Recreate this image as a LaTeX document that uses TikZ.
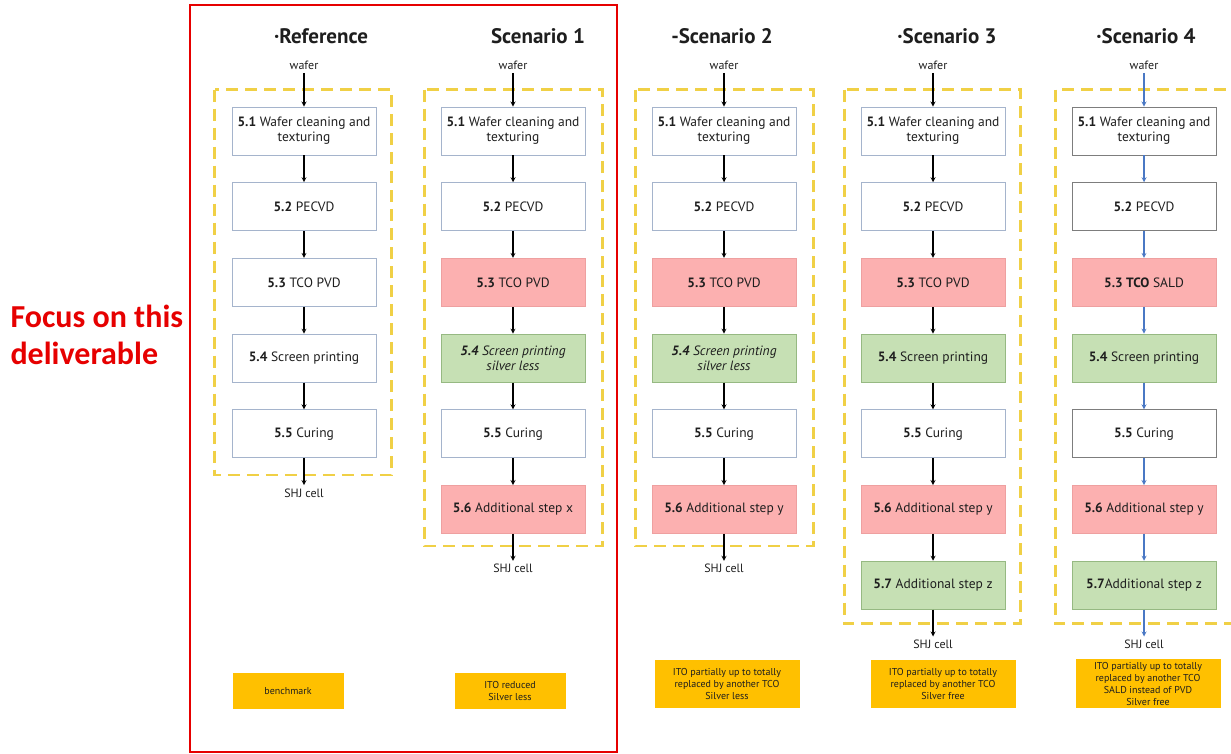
\documentclass[tikz,border=0pt]{standalone}
\usepackage{fontspec}
\setmainfont{PT Sans}
\newfontfamily\calibri{Carlito}
\usetikzlibrary{arrows, calc, positioning}

\definecolor{boxline}{RGB}{165,180,204}
\definecolor{darkline}{RGB}{125,125,125}
\definecolor{pinkfill}{RGB}{252,176,176}
\definecolor{pinkline}{RGB}{238,160,160}
\definecolor{greenfill}{RGB}{198,224,180}
\definecolor{greenline}{RGB}{150,185,130}
\definecolor{goldfill}{RGB}{255,192,0}
\definecolor{frameyellow}{RGB}{240,208,70}
\definecolor{arrowblue}{RGB}{74,120,196}
\definecolor{focusred}{RGB}{230,0,0}
\definecolor{ink}{RGB}{30,30,30}

\tikzstyle{plain} = [
    rectangle,
    minimum width=144pt,
    minimum height=48pt,
    align=center,
    draw=boxline,
    fill=white,
    line width=0.9pt,
    text=ink,
    font=\fontsize{13.5}{15}\selectfont
]
\tikzstyle{changed} = [plain, draw=pinkline, fill=pinkfill]
\tikzstyle{added} = [plain, draw=greenline, fill=greenfill]
\tikzstyle{dark} = [plain, draw=darkline]
\tikzstyle{io} = [text=ink, font=\fontsize{12}{13}\selectfont]
\tikzstyle{heading} = [text=ink, font=\fontsize{21}{24}\selectfont\bfseries]
\tikzstyle{outcome} = [
    rectangle,
    minimum width=145pt,
    minimum height=48pt,
    align=center,
    fill=goldfill,
    text=ink,
    font=\fontsize{10}{11.7}\selectfont
]
\tikzstyle{frame} = [draw=frameyellow, line width=2.5pt, dash pattern=on 12pt off 7pt]
\tikzstyle{arrow} = [line width=1.2pt,->,>=stealth]
\tikzstyle{bluearrow} = [arrow, draw=arrowblue]

\begin{document}
\begin{tikzpicture}[x=1pt, y=1pt, node distance=75.7pt]
    \useasboundingbox (0,0) rectangle (1231,754);

    \node (focus) [anchor=west, align=left, text=focusred,
        font=\calibri\fontsize{32}{37}\selectfont\bfseries] at (7,419)
        {Focus on this\\deliverable};
    \draw[focusred, line width=1.5pt] (190,2) rectangle (617,749);

    % Reference
    \node (title0) [heading] at (321,718) {·Reference};
    \node (wafer0) [io] at (304,689) {wafer};
    \node (clean0) [plain] at (304,623) {\textbf{5.1} Wafer cleaning and\\texturing};
    \node (pecvd0) [plain, below of=clean0] {\textbf{5.2} PECVD};
    \node (tco0) [plain, below of=pecvd0] {\textbf{5.3} TCO PVD};
    \node (print0) [plain, below of=tco0] {\textbf{5.4} Screen printing};
    \node (curing0) [plain, below of=print0] {\textbf{5.5} Curing};
    \node (cell0) [io, below of=curing0, yshift=16.5pt] {SHJ cell};
    \node (goal0) [outcome, minimum width=111pt, minimum height=36pt] at (288,63) {benchmark};

    % Scenario 1
    \node (title1) [heading] at (538,718) {Scenario 1};
    \node (wafer1) [io] at (513,689) {wafer};
    \node (clean1) [plain] at (513,623) {\textbf{5.1} Wafer cleaning and\\texturing};
    \node (pecvd1) [plain, below of=clean1] {\textbf{5.2} PECVD};
    \node (tco1) [changed, below of=pecvd1] {\textbf{5.3} TCO PVD};
    \node (print1) [added, below of=tco1, font=\fontsize{13.5}{15}\selectfont\itshape] {\textbf{5.4} Screen printing\\silver less};
    \node (curing1) [plain, below of=print1] {\textbf{5.5} Curing};
    \node (extra1) [changed, below of=curing1] {\textbf{5.6} Additional step x};
    \node (cell1) [io, below of=extra1, yshift=16.5pt] {SHJ cell};
    \node (goal1) [outcome, minimum width=111pt, minimum height=36pt] at (510,63) {ITO reduced\\Silver less};

    % Scenario 2
    \node (title2) [heading] at (722,718) {-Scenario 2};
    \node (wafer2) [io] at (724,689) {wafer};
    \node (clean2) [plain] at (724,623) {\textbf{5.1} Wafer cleaning and\\texturing};
    \node (pecvd2) [plain, below of=clean2] {\textbf{5.2} PECVD};
    \node (tco2) [changed, below of=pecvd2] {\textbf{5.3} TCO PVD};
    \node (print2) [added, below of=tco2, font=\fontsize{13.5}{15}\selectfont\itshape] {\textbf{5.4} Screen printing\\silver less};
    \node (curing2) [plain, below of=print2] {\textbf{5.5} Curing};
    \node (extra2) [changed, below of=curing2] {\textbf{5.6} Additional step y};
    \node (cell2) [io, below of=extra2, yshift=16.5pt] {SHJ cell};
    \node (goal2) [outcome] at (727,70) {ITO partially up to totally\\replaced by another TCO\\Silver less};

    % Scenario 3
    \node (title3) [heading] at (947,718) {·Scenario 3};
    \node (wafer3) [io] at (933,689) {wafer};
    \node (clean3) [plain] at (933,623) {\textbf{5.1} Wafer cleaning and\\texturing};
    \node (pecvd3) [plain, below of=clean3] {\textbf{5.2} PECVD};
    \node (tco3) [changed, below of=pecvd3] {\textbf{5.3} TCO PVD};
    \node (print3) [added, below of=tco3] {\textbf{5.4} Screen printing};
    \node (curing3) [plain, below of=print3] {\textbf{5.5} Curing};
    \node (extra3) [changed, below of=curing3] {\textbf{5.6} Additional step y};
    \node (extraz3) [added, below of=extra3] {\textbf{5.7} Additional step z};
    \node (cell3) [io, below of=extraz3, yshift=16.5pt] {SHJ cell};
    \node (goal3) [outcome] at (943,70) {ITO partially up to totally\\replaced by another TCO\\Silver free};

    % Scenario 4
    \node (title4) [heading] at (1146,718) {·Scenario 4};
    \node (wafer4) [io] at (1144,689) {wafer};
    \node (clean4) [dark] at (1144,623) {\textbf{5.1} Wafer cleaning and\\texturing};
    \node (pecvd4) [dark, below of=clean4] {\textbf{5.2} PECVD};
    \node (tco4) [changed, below of=pecvd4] {\textbf{5.3 TCO} SALD};
    \node (print4) [added, below of=tco4] {\textbf{5.4} Screen printing};
    \node (curing4) [dark, below of=print4] {\textbf{5.5} Curing};
    \node (extra4) [changed, below of=curing4] {\textbf{5.6} Additional step y};
    \node (extraz4) [added, below of=extra4] {\textbf{5.7}Additional step z};
    \node (cell4) [io, below of=extraz4, yshift=16.5pt] {SHJ cell};
    \node (goal4) [outcome] at (1148,70) {ITO partially up to totally\\replaced by another TCO\\SALD instead of PVD\\Silver free};

    % dashed frames
    \draw[frame] ($(clean0.north west)+(-17pt,17pt)$) rectangle ($(curing0.south east)+(15pt,-17pt)$);
    \draw[frame] ($(clean1.north west)+(-16pt,17pt)$) rectangle ($(extra1.south east)+(17pt,-12pt)$);
    \draw[frame] ($(clean2.north west)+(-16pt,17pt)$) rectangle ($(extra2.south east)+(17pt,-12pt)$);
    \draw[frame] ($(clean3.north west)+(-16pt,17pt)$) rectangle ($(extraz3.south east)+(15pt,-14pt)$);
    \draw[frame] ($(clean4.north west)+(-16pt,17pt)$) rectangle ($(extraz4.south east)+(17pt,-14pt)$);

    \draw [arrow] (wafer0) -- (clean0);
    \draw [arrow] (clean0) -- (pecvd0);
    \draw [arrow] (pecvd0) -- (tco0);
    \draw [arrow] (tco0) -- (print0);
    \draw [arrow] (print0) -- (curing0);
    \draw [arrow] (curing0) -- (cell0);

    \draw [arrow] (wafer1) -- (clean1);
    \draw [arrow] (clean1) -- (pecvd1);
    \draw [arrow] (pecvd1) -- (tco1);
    \draw [arrow] (tco1) -- (print1);
    \draw [arrow] (print1) -- (curing1);
    \draw [arrow] (curing1) -- (extra1);
    \draw [arrow] (extra1) -- (cell1);

    \draw [arrow] (wafer2) -- (clean2);
    \draw [arrow] (clean2) -- (pecvd2);
    \draw [arrow] (pecvd2) -- (tco2);
    \draw [arrow] (tco2) -- (print2);
    \draw [arrow] (print2) -- (curing2);
    \draw [arrow] (curing2) -- (extra2);
    \draw [arrow] (extra2) -- (cell2);

    \draw [arrow] (wafer3) -- (clean3);
    \draw [arrow] (clean3) -- (pecvd3);
    \draw [arrow] (pecvd3) -- (tco3);
    \draw [arrow] (tco3) -- (print3);
    \draw [arrow] (print3) -- (curing3);
    \draw [arrow] (curing3) -- (extra3);
    \draw [arrow] (extra3) -- (extraz3);
    \draw [arrow] (extraz3) -- (cell3);

    \draw [bluearrow] (wafer4) -- (clean4);
    \draw [bluearrow] (clean4) -- (pecvd4);
    \draw [bluearrow] (pecvd4) -- (tco4);
    \draw [bluearrow] (tco4) -- (print4);
    \draw [bluearrow] (print4) -- (curing4);
    \draw [bluearrow] (curing4) -- (extra4);
    \draw [bluearrow] (extra4) -- (extraz4);
    \draw [bluearrow] (extraz4) -- (cell4);
\end{tikzpicture}
\end{document}
